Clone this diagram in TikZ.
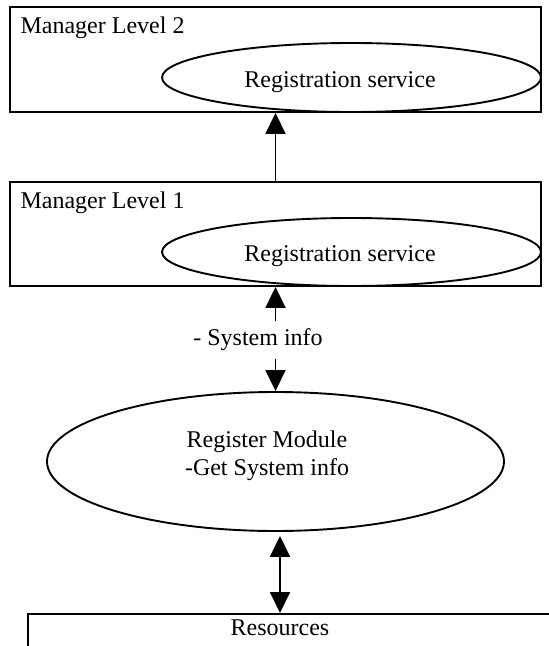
\documentclass[tikz,border=0pt]{standalone}
\usepackage{fontspec}
\setmainfont{Liberation Serif}
\usetikzlibrary{arrows.meta,shapes.geometric}

\begin{document}
\begin{tikzpicture}[
	x=1pt,y=-1pt,
	font=\fontsize{24}{28}\selectfont,
	level/.style={draw,line width=1.9pt,inner sep=0pt,minimum width=531pt},
	service/.style={draw,ellipse,line width=1.9pt,inner sep=0pt},
	link/.style={line width=1.9pt,-{Triangle[width=20pt,length=21pt]}},
	twoway/.style={line width=1.9pt,{Triangle[width=20pt,length=21pt]}-{Triangle[width=20pt,length=21pt]}}
]
%\draw[help lines] (0,0) grid[step=50] (549,646);
	\useasboundingbox (0,0) rectangle (549,646);
	\clip (0,0) rectangle (549,646);

	% manager level 2
	\node[level,minimum height=105pt] (mgr2) at (275.5,59.5) {};
	\node[anchor=base west] (mgr2name) at ([xshift=8pt,yshift=-27pt]mgr2.north west) {Manager Level 2};
	\node[service,minimum width=379pt,minimum height=69pt] (reg2) at (351.5,77.5) {};
	\node (reg2name) at (340,82) {Registration service};

	% manager level 1
	\node[level,minimum height=104pt] (mgr1) at (275.5,234) {};
	\node[anchor=base west] (mgr1name) at ([xshift=8pt,yshift=-27pt]mgr1.north west) {Manager Level 1};
	\node[service,minimum width=379pt,minimum height=68pt] (reg1) at (351.5,252) {};
	\node (reg1name) at (340,256) {Registration service};

	\draw[link] (mgr1.north) -- (mgr2.south);

	% register module
	\node (info) at (258,340) {- System info};
	\node[service,minimum width=457pt,minimum height=139pt] (regmod) at (275.5,461.5) {};
	\node[align=center] (regmodname) at (267,456) {Register Module\\-Get System info};

	\draw[link,shorten <=4pt] (info.north -| mgr1.south) -- (mgr1.south);
	\draw[link,shorten <=4pt] (info.south -| regmod.north) -- (regmod.north);

	% resources
	\node[level,anchor=north west,minimum width=560pt,minimum height=80pt] (res) at (27,613) {};
	\node (resname) at (280,628) {Resources};

	\draw[twoway,shorten <=4pt] (regmod.south -| resname) -- (res.north -| resname);
\end{tikzpicture}
\end{document}
